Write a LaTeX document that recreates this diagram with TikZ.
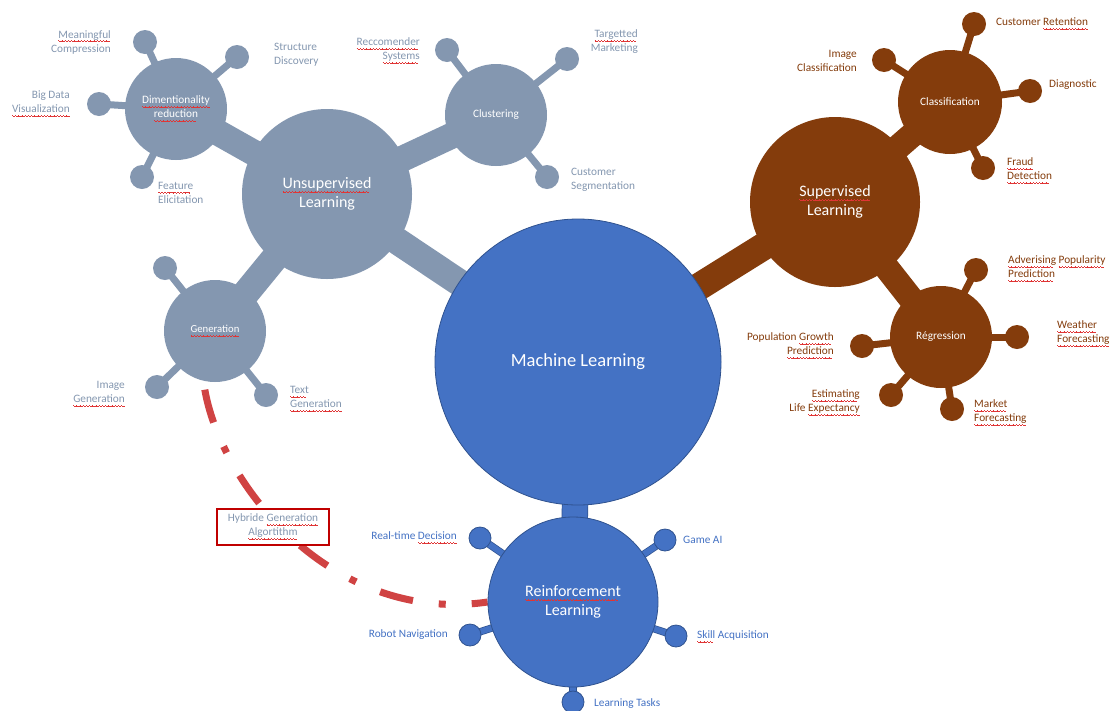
\documentclass[tikz,border=0pt]{standalone}
\usepackage{fontspec}
\setmainfont{Carlito}
\usetikzlibrary{calc,backgrounds}
\definecolor{ugrey}{HTML}{8497B0}
\definecolor{sbrown}{HTML}{843C0C}
\definecolor{rblue}{HTML}{4472C4}
\definecolor{rline}{HTML}{2F528F}
\definecolor{hred}{HTML}{D04343}
\definecolor{boxred}{HTML}{C00000}
\definecolor{wvred}{HTML}{E03535}
\newcommand\wvpat{\hbox{\rule[-3.0pt]{0.8pt}{0.6pt}\rule[-3.5pt]{0.8pt}{0.6pt}\rule[-4.0pt]{0.8pt}{0.6pt}\rule[-3.5pt]{0.8pt}{0.6pt}}}
\newcommand\wv[1]{\leavevmode\setbox0\hbox{#1}\rlap{\color{wvred}\hbox to\wd0{\leaders\wvpat\hfil}}\box0\relax}
\tikzset{
  hub/.style={circle, inner sep=0pt, text=white, align=center, font=\fontsize{11.3}{14}\selectfont},
  bighub/.style={hub, minimum size=170pt, font=\fontsize{16}{19}\selectfont},
  smallhub/.style={hub, minimum size=102pt},
  sat/.style={circle, inner sep=0pt, minimum size=24pt},
  bsat/.style={circle, inner sep=0pt, minimum size=22pt, fill=rblue, draw=rline, line width=0.8pt},
  lab/.style={inner sep=0pt, font=\fontsize{11.3}{14}\selectfont},
  labL/.style={lab, anchor=west, align=left},
  labR/.style={lab, anchor=east, align=right},
  stick/.style={line width=7pt, draw=#1},
  bstick/.style={draw=rline, line width=0.7pt, double=rblue, double distance=6pt},
  reddash/.style={draw=hred, line width=7pt, dash pattern=on 34pt off 26pt on 7pt off 26pt, dash phase=18pt}
}
\begin{document}
\begin{tikzpicture}[x=1pt,y=-1pt]
\useasboundingbox (0,0) rectangle (1115,710);
% hubs
\node[hub, fill=rblue, draw=rline, line width=0.8pt, minimum size=286pt, font=\fontsize{18.5}{22}\selectfont] (ml) at (578,362) {Machine Learning};
\node[bighub, fill=ugrey] (unsup) at (327,194) {\wv{Unsupervised}\\Learning};
\node[smallhub, fill=ugrey] (dim) at (176,109) {\wv{Dimentionality}\\\wv{reduction}};
\node[smallhub, fill=ugrey] (clu) at (496,115) {Clustering};
\node[smallhub, fill=ugrey, font=\fontsize{10.7}{13}\selectfont] (gen) at (215,331) {\wv{Generation}};
\node[bighub, fill=sbrown] (sup) at (835,202) {\wv{Supervised}\\Learning};
\node[smallhub, fill=sbrown, minimum size=104pt] (cla) at (950,102) {Classification};
\node[smallhub, fill=sbrown] (reg) at (941,337) {Régression};
\node[bighub, fill=rblue, draw=rline, line width=0.8pt] (rein) at (573,602) {\wv{Reinforcement}\\Learning};
% grey satellites
\node[sat, fill=ugrey] (d1) at (145,42) {};
\node[sat, fill=ugrey] (d2) at (237,57) {};
\node[sat, fill=ugrey] (d3) at (99,104) {};
\node[sat, fill=ugrey] (d4) at (142,177) {};
\node[sat, fill=ugrey] (c1) at (447,50) {};
\node[sat, fill=ugrey] (c2) at (567,59) {};
\node[sat, fill=ugrey] (c3) at (547,177) {};
\node[sat, fill=ugrey] (g1) at (165,268) {};
\node[sat, fill=ugrey] (g2) at (157,387) {};
\node[sat, fill=ugrey] (g3) at (266,395) {};
% brown satellites
\node[sat, fill=sbrown] (k1) at (974,24) {};
\node[sat, fill=sbrown] (k2) at (884,60) {};
\node[sat, fill=sbrown] (k3) at (1030,91) {};
\node[sat, fill=sbrown] (k4) at (983,168) {};
\node[sat, fill=sbrown] (r1) at (976,270) {};
\node[sat, fill=sbrown] (r2) at (1017,337) {};
\node[sat, fill=sbrown] (r3) at (862,346) {};
\node[sat, fill=sbrown] (r4) at (891,395) {};
\node[sat, fill=sbrown] (r5) at (952,409) {};
% blue satellites
\node[bsat] (b1) at (480,538) {};
\node[bsat] (b2) at (665,540) {};
\node[bsat] (b3) at (470,635) {};
\node[bsat] (b4) at (676,636) {};
\node[bsat] (b5) at (573,702) {};
% hybrid box
\node[lab, draw=boxred, line width=2.5pt, fill=white, minimum width=112pt, minimum height=36pt, text=ugrey, align=center] (hyb) at (273,527) {Hybride \wv{Generation}\\\wv{Algortithm}};
% grey labels
\node[labR, text=ugrey] (t-d1) at (111,42) {\wv{Meaningful}\\Compression};
\node[labR, text=ugrey] (t-d3) at (70,104) {Big Data\\\wv{Visualization}};
\node[labL, text=ugrey] (t-d2) at (274,55) {Structure\\Discovery};
\node[labL, text=ugrey] (t-d4) at (158,193) {\wv{Feature}\\Elicitation};
\node[labR, text=ugrey] (t-c1) at (420,51) {\wv{Reccomender}\\\wv{Systems}};
\node[labR, text=ugrey] (t-c2) at (638,42) {\wv{Targetted}\\Marketing};
\node[labL, text=ugrey] (t-c3) at (571,180) {Customer\\Segmentation};
\node[labR, text=ugrey] (t-g2) at (125,394) {Image\\\wv{Generation}};
\node[labL, text=ugrey] (t-g3) at (290,399) {\wv{Text}\\\wv{Generation}};
% brown labels
\node[labL, text=sbrown] (t-k1) at (996,24) {Customer \wv{Retention}};
\node[labR, text=sbrown] (t-k2) at (857,61) {Image\\Classification};
\node[labL, text=sbrown] (t-k3) at (1049,85) {Diagnostic};
\node[labL, text=sbrown] (t-k4) at (1007,171) {\wv{Fraud}\\\wv{Detection}};
\node[labL, text=sbrown] (t-r1) at (1008,269) {\wv{Adverising} \wv{Popularity}\\\wv{Prediction}};
\node[labL, text=sbrown] (t-r2) at (1057,334) {\wv{Weather}\\\wv{Forecasting}};
\node[labR, text=sbrown] (t-r3) at (834,346) {Population \wv{Growth}\\\wv{Prediction}};
\node[labR, text=sbrown] (t-r4) at (860,403) {\wv{Estimating}\\Life \wv{Expectancy}};
\node[labL, text=sbrown] (t-r5) at (974,413) {\wv{Market}\\\wv{Forecasting}};
% blue labels
\node[labR, text=rblue] (t-b1) at (457,538) {Real-time \wv{Decision}};
\node[labL, text=rblue] (t-b2) at (683,540) {Game AI};
\node[labR, text=rblue] (t-b3) at (448,635) {Robot Navigation};
\node[labL, text=rblue] (t-b4) at (697,637) {\wv{Skill} Acquisition};
\node[labL, text=rblue] (t-b5) at (594,704) {Learning Tasks};
% connectors
\begin{scope}[on background layer]
\fill[white] (0,0) rectangle (1115,710);
\draw[line width=27pt, ugrey] (unsup.center) -- (ml.center);
\draw[line width=26pt, ugrey] (unsup.center) -- (dim.center);
\draw[line width=26pt, ugrey] (unsup.center) -- (clu.center);
\draw[line width=27pt, ugrey] (unsup.center) -- (gen.center);
\draw[line width=27.5pt, sbrown] (ml.center) -- (sup.center);
\draw[line width=25pt, sbrown] (sup.center) -- (cla.center);
\draw[line width=25pt, sbrown] (sup.center) -- (reg.center);
\draw[draw=rline, line width=0.7pt, double=rblue, double distance=25pt] (ml.center) -- (rein.center);
\foreach \s in {d1,d2,d3,d4} \draw[stick=ugrey] (dim.center) -- (\s.center);
\foreach \s in {c1,c2,c3} \draw[stick=ugrey] (clu.center) -- (\s.center);
\foreach \s in {g1,g2,g3} \draw[stick=ugrey] (gen.center) -- (\s.center);
\foreach \s in {k1,k2,k3,k4} \draw[stick=sbrown] (cla.center) -- (\s.center);
\foreach \s in {r1,r2,r3,r4,r5} \draw[stick=sbrown] (reg.center) -- (\s.center);
\foreach \s in {b1,b2,b3,b4,b5} \draw[bstick] (rein.center) -- (\s.center);
\draw[reddash] (rein.west) .. controls ($(rein.west)+(-158,23)$) and ($(gen.257)+(12,99)$) .. (gen.257);
\end{scope}
\end{tikzpicture}
\end{document}
